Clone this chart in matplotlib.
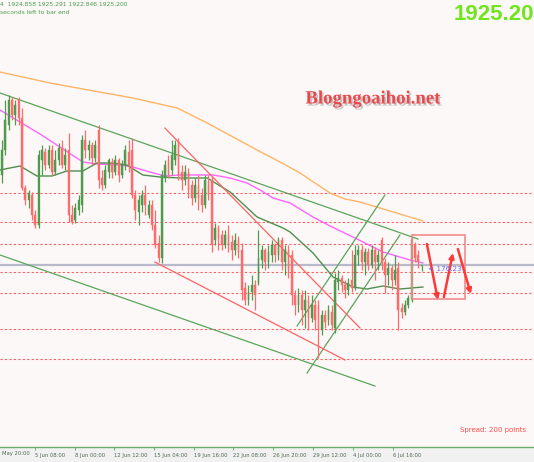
import matplotlib
matplotlib.use('Agg')
import matplotlib.pyplot as plt
import matplotlib.patheffects as pe
from matplotlib.patches import Rectangle

# ---------------- data (H4 gold bars) ----------------
opens = [1961.2,1971.2,1981.2,1991.2,1985.2,1991.2,1984.0,1956.0,1951.2,1953.2,
         1945.2,1941.2,1967.2,1970.4,1965.2,1971.2,1962.4,1967.2,1972.0,1965.2,
         1971.2,1945.2,1943.2,1947.2,1949.2,1975.2,1971.2,1973.2,1968.0,1979.2,
         1960.0,1957.2,1962.4,1966.4,1962.4,1967.2,1961.2,1965.2,1970.4,1971.2,
         1953.2,1946.4,1949.2,1953.2,1945.2,1949.2,1941.2,1934.0,1928.0,1960.0,
         1967.2,1963.2,1967.2,1974.4,1962.4,1959.2,1962.4,1957.2,1952.0,1957.2,
         1953.2,1949.2,1958.4,1959.2,1935.2,1940.0,1937.2,1933.2,1937.2,1934.4,
         1931.2,1935.2,1931.2,1916.0,1911.2,1914.4,1917.2,1918.0,1927.2,1931.2,
         1926.4,1929.2,1933.2,1929.2,1935.2,1926.4,1931.2,1929.2,1913.2,1909.2,
         1913.2,1907.2,1911.2,1904.0,1909.2,1909.2,1899.2,1905.2,1903.2,1906.4,
         1900.0,1918.4,1920.0,1917.2,1915.2,1919.2,1916.0,1929.2,1931.2,1926.4,
         1930.4,1925.2,1931.2,1926.4,1935.2,1926.4,1921.2,1924.0,1919.2,1924.0,
         1908.0,1906.4,1909.2,1911.2,1933.2,1929.2,1924.858]
highs = [1975.2,1991.2,1993.2,1992.4,1991.2,1992.4,1988.0,1957.2,1955.2,1954.4,
         1947.2,1971.2,1973.2,1972.0,1973.2,1973.2,1971.2,1974.0,1975.2,1972.0,
         1978.0,1949.2,1950.0,1953.2,1977.2,1979.2,1975.2,1974.4,1975.2,1981.2,
         1963.2,1965.2,1968.0,1968.0,1969.2,1968.0,1967.2,1973.2,1975.2,1976.0,
         1955.2,1953.2,1955.2,1957.2,1951.2,1951.2,1947.2,1937.2,1963.2,1967.2,
         1969.2,1975.2,1975.2,1976.0,1965.2,1965.2,1964.0,1959.2,1960.0,1961.2,
         1956.0,1961.2,1961.2,1960.8,1942.0,1941.2,1939.2,1939.2,1941.2,1937.2,
         1938.0,1936.8,1934.0,1918.4,1917.2,1921.2,1919.2,1939.2,1933.2,1932.0,
         1933.2,1935.2,1934.0,1936.4,1936.4,1933.2,1933.2,1931.2,1915.2,1916.0,
         1915.2,1915.2,1913.2,1913.2,1911.2,1911.2,1907.2,1907.2,1909.2,1909.2,
         1922.0,1923.2,1921.2,1919.2,1920.0,1931.2,1933.2,1933.2,1933.2,1932.0,
         1932.0,1933.2,1932.4,1931.2,1936.4,1928.0,1926.4,1925.2,1929.2,1926.4,
         1910.0,1911.2,1913.2,1936.4,1934.4,1931.2,1925.291]
lows = [1958.0,1969.2,1979.2,1983.2,1981.2,1981.2,1955.2,1949.2,1948.0,1943.2,
        1940.0,1940.0,1961.2,1963.2,1964.0,1961.2,1961.2,1965.2,1964.0,1963.2,
        1942.4,1941.6,1942.0,1945.2,1946.4,1968.0,1967.2,1965.2,1966.4,1956.0,
        1955.2,1956.0,1960.0,1960.0,1961.2,1958.4,1960.0,1963.2,1962.4,1952.0,
        1943.2,1941.2,1946.4,1945.2,1944.0,1939.2,1932.0,1926.4,1926.0,1958.4,
        1960.0,1961.2,1965.2,1959.2,1955.2,1957.2,1952.0,1949.2,1950.4,1947.2,
        1946.4,1948.0,1951.2,1930.4,1933.2,1931.2,1931.2,1932.0,1930.4,1927.2,
        1929.2,1928.0,1911.2,1909.2,1909.2,1911.2,1907.2,1917.2,1924.0,1923.2,
        1924.0,1926.4,1926.4,1927.2,1923.2,1921.2,1920.0,1909.2,1905.2,1906.4,
        1901.2,1900.0,1899.2,1902.4,1899.2,1888.0,1897.2,1900.0,1901.2,1899.2,
        1898.0,1915.2,1914.4,1912.0,1913.2,1914.4,1915.2,1925.2,1923.2,1921.2,
        1923.2,1924.0,1919.2,1923.2,1923.2,1914.0,1917.2,1915.2,1917.2,1899.2,
        1904.0,1905.2,1908.0,1910.4,1926.4,1924.0,1922.846]
closes = [1971.2,1983.2,1991.2,1985.2,1989.2,1984.0,1956.0,1951.2,1954.0,1945.2,
          1941.2,1969.2,1971.2,1965.2,1971.2,1962.4,1967.2,1972.0,1965.2,1969.2,
          1945.2,1942.4,1948.0,1951.2,1975.2,1971.2,1973.2,1968.0,1973.2,1959.2,
          1957.2,1963.2,1967.2,1962.4,1967.2,1961.2,1965.2,1971.2,1965.2,1953.2,
          1947.2,1951.2,1953.2,1949.2,1949.2,1941.2,1933.2,1928.0,1961.2,1965.2,
          1961.2,1969.2,1973.2,1961.2,1959.2,1962.4,1955.2,1952.0,1957.2,1952.0,
          1949.2,1959.2,1953.2,1933.2,1940.0,1936.0,1933.2,1937.2,1933.2,1931.2,
          1935.2,1930.4,1915.2,1911.2,1914.4,1917.2,1913.2,1928.0,1931.2,1926.4,
          1930.4,1933.2,1929.2,1935.2,1926.4,1931.2,1923.2,1913.2,1909.2,1913.2,
          1907.2,1911.2,1904.0,1909.2,1903.2,1899.2,1905.2,1902.4,1907.2,1901.2,
          1919.2,1920.0,1917.2,1915.2,1918.0,1916.0,1929.2,1931.2,1926.4,1930.4,
          1925.2,1931.2,1926.4,1929.2,1926.4,1921.2,1924.0,1919.2,1923.2,1907.2,
          1906.4,1909.2,1912.0,1935.2,1928.0,1926.4,1925.200]

# moving averages (bar index, price)
ma_slow_x = [-0.6,14.4,24.3,39.3,52.6,61.6,69.4,76.6,83.5,89.5,94.0,98.5,103.0,107.5,113.5,119.5,126.4]
ma_slow_y = [2002.4,1998.0,1995.6,1992.0,1988.0,1982.0,1976.4,1971.2,1966.4,1962.0,1958.0,1954.0,1951.6,1950.4,1948.0,1945.6,1942.8]
ma_mid_x = [-0.6,11.4,17.4,24.3,28.5,35.4,39.3,44.4,48.9,53.5,63.4,68.5,73.6,77.5,81.4,86.5,93.4,98.5,106.6,114.4,122.5,126.4]
ma_mid_y = [1987.2,1977.6,1972.4,1966.4,1965.6,1965.2,1964.4,1962.4,1960.8,1961.2,1961.2,1960.0,1958.0,1955.2,1952.0,1950.0,1944.4,1940.8,1935.6,1930.4,1927.2,1926.0]
ma_fast_x = [-0.6,5.4,10.5,15.0,19.5,24.3,28.5,33.3,37.5,42.3,47.4,53.5,61.6,68.5,76.6,84.4,86.5,93.4,99.4,105.4,109.6,114.4,119.5,126.4]
ma_fast_y = [1963.2,1964.8,1960.8,1960.8,1962.8,1962.8,1966.0,1966.0,1965.2,1961.2,1960.4,1960.0,1960.0,1954.4,1944.4,1940.0,1938.4,1930.0,1920.4,1916.4,1915.6,1916.8,1915.6,1916.4]

# trend lines: (x0, p0, x1, p1)
green_lines = [(-0.6,1994.0,124.9,1935.6), (-0.6,1929.2,112.0,1876.8),
               (88.6,1900.8,115.0,1953.2), (91.6,1882.0,119.5,1937.2)]
red_lines = [(48.9,1980.0,107.5,1900.0), (45.9,1926.4,103.0,1887.2)]
levels = [1954.0,1942.4,1933.6,1922.4,1914.0,1899.6,1887.6]
current_price = 1925.2

first_label = 'May 20:00'
tick_pos = [9.9,21.9,33.6,45.6,57.7,69.4,81.4,93.4,105.4,117.4]
tick_labels = ['5 Jun 08:00','8 Jun 00:00','12 Jun 12:00','15 Jun 04:00',
               '19 Jun 16:00','22 Jun 08:00','26 Jun 20:00','29 Jun 12:00','4 Jul 00:00','6 Jul 16:00']

box = (123.1, 1911.6, 139.0, 1937.2)
arrows = [((127.6,1933.6),(130.9,1911.2)), ((132.7,1912.4),(135.4,1930.0)), ((136.9,1931.6),(140.8,1913.6))]

# ---------------- figure ----------------
W, H = 534, 462
fig = plt.figure(figsize=(W/100, H/100), dpi=100)
fig.patch.set_facecolor('#f1f1f1')
ax = fig.add_axes([0, 15/H, 1, 447/H])
ax.set_facecolor('#fdf8f8')
ax.set_xlim(-0.6, 159.76)
ax.set_ylim(1852.4, 2031.2)
for s in ['top', 'left', 'right']:
    ax.spines[s].set_visible(False)
ax.spines['bottom'].set_color('#6ab06a')
ax.spines['bottom'].set_linewidth(1.0)
ax.tick_params(axis='y', left=False, labelleft=False)
ax.set_xticks(tick_pos)
ax.set_xticklabels(tick_labels, fontsize=3.8, color='#4d6a4d')
for lbl in ax.get_xticklabels():
    lbl.set_ha('left')
ax.tick_params(axis='x', length=2.5, width=0.7, color='#6ab06a', pad=1.8)

# levels
for lv in levels:
    ax.axhline(lv, color='#ff5c5c', lw=0.8, ls=(0, (2, 2)), zorder=1)
ax.axhline(current_price, color='#b9b9cc', lw=1.6, zorder=1)

# moving averages
ax.plot(ma_slow_x, ma_slow_y, color='#ffb466', lw=1.0, zorder=2)
ax.plot(ma_mid_x, ma_mid_y, color='#ff66ff', lw=1.0, zorder=2)
ax.plot(ma_fast_x, ma_fast_y, color='#4f8f4f', lw=1.0, zorder=2)

# trend lines
for x0, p0, x1, p1 in green_lines:
    ax.plot([x0, x1], [p0, p1], color='#5aa55a', lw=0.9, zorder=2)
for x0, p0, x1, p1 in red_lines:
    ax.plot([x0, x1], [p0, p1], color='#ff6262', lw=0.9, zorder=2)

# candles
for i, (o, h, l, c) in enumerate(zip(opens, highs, lows, closes)):
    col = '#4f9a4f' if c >= o else '#ff6b6b'
    ax.vlines(i, l, h, color=col, lw=0.9, zorder=3)
    ax.bar(i, abs(c - o) if abs(c - o) > 0.3 else 0.3, bottom=min(o, c), width=0.5,
           color=col, edgecolor=col, lw=0.3, zorder=3)

# box and arrows
ax.add_patch(Rectangle((box[0], box[1]), box[2]-box[0], box[3]-box[1], fill=False,
                       ec='#f08c8c', lw=1.2, zorder=4))
for (x0, p0), (x1, p1) in arrows:
    ax.annotate('', xy=(x1, p1), xytext=(x0, p0),
                arrowprops=dict(arrowstyle='-|>', color='#ff3838', lw=1.8,
                                mutation_scale=7, shrinkA=0, shrinkB=0), zorder=5)
ax.text(127.9, 1923.6, '< 176.23', fontsize=5.2, color='#6464ff', ha='left', va='center', zorder=6)

# texts
def fx(x): return x / W
def fy(y): return 1 - y / H

fig.text(fx(2), fy(453), first_label, fontsize=3.8, color='#4d6a4d', ha='left', va='center')
fig.text(fx(0), fy(5), '4  1924.858 1925.291 1922.846 1925.200', fontsize=4.3,
         color='#4a9d4a', ha='left', va='center')
fig.text(fx(0), fy(13), 'seconds left to bar end', fontsize=4.3,
         color='#4a9d4a', ha='left', va='center')
fig.text(fx(534), fy(15), '1925.20', fontsize=16, fontweight='bold', family='Liberation Sans',
         color='#6fe61c', ha='right', va='center')
t = fig.text(fx(373), fy(99), 'Blogngoaihoi.net', fontsize=13.5, fontweight='bold',
             family='Liberation Serif', color='#e84a4e', ha='center', va='center')
t.set_path_effects([pe.withSimplePatchShadow(offset=(1.2, -1.5), shadow_rgbFace='#888888', alpha=0.45)])
fig.text(fx(526), fy(430), 'Spread: 200 points', fontsize=5.0, color='#ff4a4a',
         ha='right', va='center')

fig.savefig('out.png', dpi=100, facecolor=fig.get_facecolor())
